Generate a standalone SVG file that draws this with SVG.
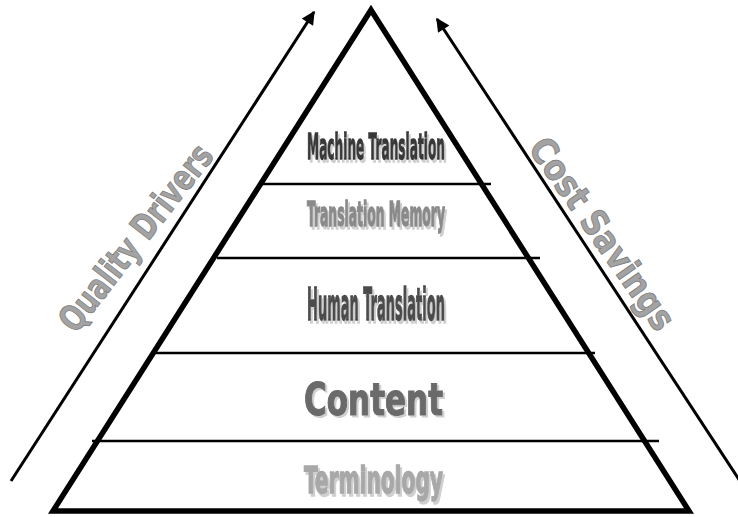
<svg xmlns="http://www.w3.org/2000/svg" width="738" height="517" viewBox="0 0 738 517">
  <style>
    .lbl { font-family: "Liberation Sans Narrow", "DejaVu Sans Condensed", "Liberation Sans", sans-serif; font-weight: bold; filter: url(#drop); stroke-width: 0.9; }
    .tier { stroke: #000; stroke-width: 2.5; fill: none; }
    .arrow { stroke: #000; stroke-width: 3; fill: none; marker-end: url(#head); }
    .side { font-family: "Liberation Sans Narrow", "DejaVu Sans Condensed", "Liberation Sans", sans-serif; font-weight: bold; text-anchor: middle; fill: #a3a3a3; stroke: #7a7a7a; stroke-width: 0.8; }
  </style>
  <defs>
    <marker id="head" viewBox="0 0 10 10" refX="9" refY="5" markerWidth="5" markerHeight="4.5" orient="auto" markerUnits="strokeWidth">
      <path d="M0,0 L10,5 L0,10 Z" fill="#000"/>
    </marker>
    <!-- light grey offset shadow behind tier labels -->
    <filter id="drop" x="-10%" y="-30%" width="120%" height="160%">
      <feOffset in="SourceAlpha" dx="2" dy="2" result="off"/>
      <feFlood flood-color="#cfcfcf"/>
      <feComposite in2="off" operator="in" result="shadow"/>
      <feMerge>
        <feMergeNode in="shadow"/>
        <feMergeNode in="SourceGraphic"/>
      </feMerge>
    </filter>
  </defs>
  <rect width="738" height="517" fill="#fff"/>

  <!-- direction arrows -->
  <g id="connectors">
    <line class="arrow" x1="11" y1="481" x2="314" y2="12"/>
    <line class="arrow" x1="742" y1="484" x2="437" y2="19"/>
  </g>

  <!-- pyramid outline -->
  <g id="pyramid">
    <path d="M371,10 L689,511 L53,511 Z" fill="none" stroke="#000" stroke-width="5.5" stroke-linejoin="miter"/>
    <line class="tier" x1="261" y1="184" x2="491" y2="184"/>
    <line class="tier" x1="217" y1="258" x2="540" y2="258"/>
    <line class="tier" x1="156" y1="353" x2="595" y2="353"/>
    <line class="tier" x1="92" y1="441" x2="659" y2="441"/>
  </g>

  <g id="machine-translation">
    <text class="lbl" transform="translate(307,159) scale(1,1.45)" font-size="25" fill="#383838" stroke="#383838" textLength="138" lengthAdjust="spacingAndGlyphs">Machine Translation</text>
  </g>
  <g id="translation-memory">
    <text class="lbl" transform="translate(307,226) scale(1,1.45)" font-size="23" fill="#8a8a8a" stroke="#8a8a8a" textLength="138" lengthAdjust="spacingAndGlyphs">Translation Memory</text>
  </g>
  <g id="human-translation">
    <text class="lbl" transform="translate(307,320) scale(1,1.45)" font-size="30.5" fill="#4c4c4c" stroke="#4c4c4c" textLength="138" lengthAdjust="spacingAndGlyphs">Human Translation</text>
  </g>
  <g id="content">
    <text class="lbl" transform="translate(304,415) scale(1,1.2)" font-size="36.5" fill="#6a6a6a" stroke="#6a6a6a" textLength="139" lengthAdjust="spacingAndGlyphs">Content</text>
  </g>
  <g id="terminology">
    <text class="lbl" transform="translate(304,493) scale(1,1.45)" font-size="26" fill="#a8a8a8" stroke="#a8a8a8" textLength="139" lengthAdjust="spacingAndGlyphs">Terminology</text>
  </g>

  <g id="quality-drivers" transform="translate(136,238) rotate(-52)">
    <text class="side" x="0" y="12" font-size="36" textLength="226" lengthAdjust="spacingAndGlyphs">Quality Drivers</text>
  </g>
  <g id="cost-savings" transform="translate(602,234) rotate(55)">
    <text class="side" x="0" y="12" font-size="36" textLength="226" lengthAdjust="spacingAndGlyphs">Cost Savings</text>
  </g>
</svg>
